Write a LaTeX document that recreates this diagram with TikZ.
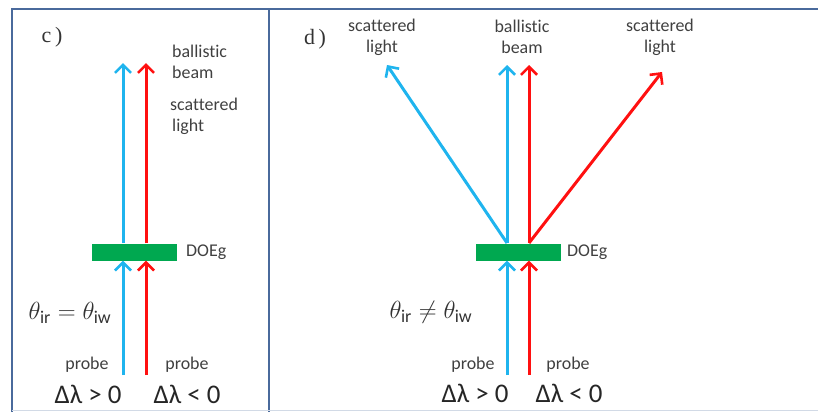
\documentclass[tikz,border=0pt]{standalone}
\usepackage{fontspec}
\setmainfont{Carlito}[Ligatures=NoCommon]
\newfontfamily\tms{Liberation Serif}
\usetikzlibrary{arrows.meta,positioning}
\definecolor{beamblue}{HTML}{1FB4EE}
\definecolor{beamred}{HTML}{FF1010}
\definecolor{doegreen}{HTML}{00A850}
\definecolor{framecol}{HTML}{4A6A9C}
\definecolor{labelgray}{HTML}{404040}
\tikzset{
  framelines/.style={draw=framecol, line width=2bp},
  barbtip/.style={-{Straight Barb[length=8bp,width=16bp,line width=2.6bp]}},
  bluebeam/.style={draw=beamblue, line width=3bp, barbtip},
  redbeam/.style={draw=beamred, line width=3bp, barbtip},
  doebar/.style={fill=doegreen, draw=none, minimum width=85bp, minimum height=17bp, inner sep=0pt},
  lbl/.style={text=labelgray, font=\fontsize{18}{21}\selectfont, inner sep=0pt},
  dlbl/.style={text=black!85, font=\fontsize{27}{30}\selectfont, inner sep=0pt},
  thlbl/.style={text=black!80, inner sep=0pt},
  panellbl/.style={font=\tms\fontsize{22}{24}\selectfont, text=black!80, inner sep=0pt}
}
\newcommand{\thsub}[1]{\mbox{\fontsize{18}{18}\selectfont #1}}
\begin{document}
\begin{tikzpicture}[x=1bp,y=-1bp]
\useasboundingbox (0,0) rectangle (818,412);
% frames
\draw[framelines] (12,412) -- (12,9) -- (818,9);
\draw[framelines] (269,9) -- (269,412);
\draw[draw=framecol!25, line width=1.5bp] (12,410.5) -- (818,410.5);

% ---------- panel c ----------
\node[panellbl] (clab) at (52,37) {c\,)};
\node[doebar] (gc) at (134.5,252) {};
\node[lbl, anchor=west] (cdoe) at (186,252) {DOEg};
\coordinate (cbin) at (123,375);
\coordinate (crin) at (146,375);
\coordinate (cbout) at (123,63);
\coordinate (crout) at (146,63);
\draw[bluebeam] (cbin) -- (cbin |- gc.south);
\draw[redbeam] (crin) -- (crin |- gc.south);
\draw[bluebeam] (cbout |- gc.north) -- (cbout);
\draw[redbeam] (crout |- gc.north) -- (crout);
\node[lbl, anchor=west, align=left] (cball) at (172,62) {ballistic\\beam};
\node[lbl, anchor=west, align=left] (cscat) at (170,116) {scattered\\\hspace{2bp}light};
\node[thlbl] (cth) at (70,313) {\fontsize{29}{30}\selectfont$\theta_{\thsub{ir}} = \theta_{\thsub{iw}}$};
\node[lbl] (cpb) at (87,365) {probe};
\node[lbl] (cpr) at (187,365) {probe};
\node[dlbl] (cdb) at (88,394) {Δλ > 0};
\node[dlbl] (cdr) at (187,394) {Δλ < 0};

% ---------- panel d ----------
\node[panellbl] (dlab) at (315,39) {d\,)};
\node[doebar] (gd) at (518,252) {};
\node[lbl, anchor=west] (ddoe) at (567,252) {DOEg};
\coordinate (dbin) at (507,375);
\coordinate (drin) at (529,375);
\coordinate (dbout) at (507,65);
\coordinate (drout) at (529,65);
\coordinate (dbsc) at (387,65);
\coordinate (drsc) at (662,72);
\coordinate (dbsrc) at (507,243);
\coordinate (drsrc) at (529,243);
\draw[bluebeam] (dbin) -- (dbin |- gd.south);
\draw[redbeam] (drin) -- (drin |- gd.south);
\draw[bluebeam] (dbsrc) -- (dbout);
\draw[redbeam] (drsrc) -- (drout);
\draw[bluebeam] (dbsrc) -- (dbsc);
\draw[redbeam] (drsrc) -- (drsc);
\node[lbl, align=center] (dscl) at (382,37) {scattered\\light};
\node[lbl, align=center] (dball) at (522,37) {ballistic\\beam};
\node[lbl, align=center] (dscr) at (660,37) {scattered\\light};
\node[thlbl] (dth) at (431,312) {\fontsize{29}{30}\selectfont$\theta_{\thsub{ir}} \neq \theta_{\thsub{iw}}$};
\node[lbl] (dpb) at (473,365) {probe};
\node[lbl] (dpr) at (568,365) {probe};
\node[dlbl] (ddb) at (475,393) {Δλ > 0};
\node[dlbl] (ddr) at (569,393) {Δλ < 0};
\end{tikzpicture}
\end{document}
